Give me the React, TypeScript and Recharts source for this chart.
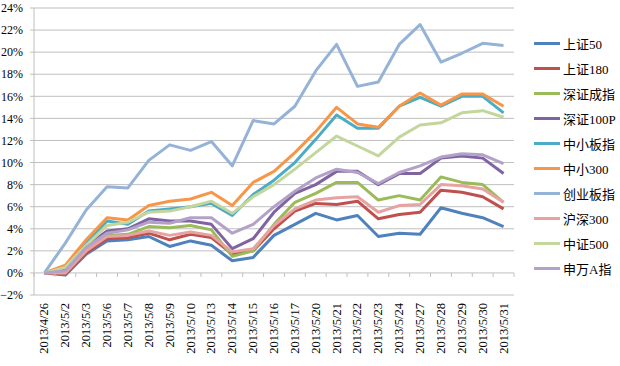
import { LineChart, Line, XAxis, YAxis, CartesianGrid } from 'recharts';

// trading days, 2013/4/26 - 2013/5/31
const dates = [
  '2013/4/26', '2013/5/2', '2013/5/3', '2013/5/6', '2013/5/7', '2013/5/8',
  '2013/5/9', '2013/5/10', '2013/5/13', '2013/5/14', '2013/5/15', '2013/5/16',
  '2013/5/17', '2013/5/20', '2013/5/21', '2013/5/22', '2013/5/23', '2013/5/24',
  '2013/5/27', '2013/5/28', '2013/5/29', '2013/5/30', '2013/5/31',
];

// cumulative return, %
const sz50 = [0, -0.2, 1.7, 2.9, 3.0, 3.3, 2.4, 2.9, 2.5, 1.1, 1.4, 3.4, 4.4, 5.4, 4.8, 5.2, 3.3, 3.6, 3.5, 5.9, 5.4, 5.0, 4.2];
const sz180 = [0, -0.1, 1.8, 3.1, 3.2, 3.6, 3.0, 3.5, 3.2, 1.7, 2.0, 4.0, 5.6, 6.3, 6.2, 6.5, 4.9, 5.3, 5.5, 7.5, 7.3, 6.9, 5.8];
const szcz = [0, 0.3, 2.2, 3.4, 3.5, 4.2, 4.1, 4.3, 3.9, 1.5, 2.0, 4.4, 6.4, 7.2, 8.2, 8.2, 6.6, 7.0, 6.6, 8.7, 8.2, 8.0, 6.4];
const sz100p = [0, 0.3, 2.4, 3.8, 4.0, 4.9, 4.7, 4.7, 4.4, 2.2, 3.1, 5.5, 7.2, 8.0, 9.2, 9.2, 8.0, 9.0, 9.0, 10.4, 10.6, 10.4, 9.0];
const zxb = [0, 0.5, 2.7, 4.7, 4.4, 5.6, 5.8, 6.0, 6.3, 5.2, 7.1, 8.4, 10.0, 12.1, 14.3, 13.1, 13.1, 15.1, 15.9, 15.1, 16.0, 16.0, 14.5];
const zx300 = [0, 0.7, 3.0, 5.0, 4.8, 6.1, 6.5, 6.7, 7.3, 6.1, 8.2, 9.2, 10.9, 12.8, 15.0, 13.5, 13.2, 15.1, 16.3, 15.2, 16.2, 16.2, 15.1];
const cyb = [0, 2.7, 5.7, 7.8, 7.7, 10.2, 11.6, 11.1, 11.9, 9.7, 13.8, 13.5, 15.1, 18.3, 20.7, 16.9, 17.3, 20.7, 22.5, 19.1, 19.9, 20.8, 20.6];
const hs300 = [0, 0.0, 2.0, 3.3, 3.4, 3.8, 3.4, 3.7, 3.4, 1.9, 2.2, 4.3, 5.8, 6.6, 6.8, 6.9, 5.5, 6.1, 6.2, 8.0, 7.9, 7.6, 6.4];
const zz500 = [0, 0.5, 2.5, 4.3, 4.6, 5.5, 5.6, 6.0, 6.5, 5.4, 6.9, 8.0, 9.4, 10.9, 12.4, 11.5, 10.6, 12.3, 13.4, 13.6, 14.5, 14.7, 14.1];
const swa = [0, 0.2, 2.3, 3.6, 3.9, 4.6, 4.5, 5.0, 5.0, 3.6, 4.4, 6.0, 7.4, 8.6, 9.4, 9.1, 8.1, 9.1, 9.7, 10.5, 10.8, 10.7, 9.9];

const yTicks = [-2, 0, 2, 4, 6, 8, 10, 12, 14, 16, 18, 20, 22, 24];

const series = [
  { key: 's1', name: '上证50', color: '#4F81BD', values: sz50 },
  { key: 's2', name: '上证180', color: '#C0504D', values: sz180 },
  { key: 's3', name: '深证成指', color: '#9BBB59', values: szcz },
  { key: 's4', name: '深证100P', color: '#8064A2', values: sz100p },
  { key: 's5', name: '中小板指', color: '#4BACC6', values: zxb },
  { key: 's6', name: '中小300', color: '#F79646', values: zx300 },
  { key: 's7', name: '创业板指', color: '#95B3D7', values: cyb },
  { key: 's8', name: '沪深300', color: '#E6A3A2', values: hs300 },
  { key: 's9', name: '中证500', color: '#C3D69B', values: zz500 },
  { key: 's10', name: '申万A指', color: '#B3A2C7', values: swa },
];

const data = dates.map((d, i) => {
  const row: Record<string, string | number> = { date: d };
  series.forEach((s) => {
    row[s.key] = s.values[i];
  });
  return row;
});

const W = 620;
const H = 366;
const TOP = 8;
const X_AXIS_H = 71;
const PLOT_W = 480;
const PLOT_H = H - TOP - X_AXIS_H;
const HALF_BAND = PLOT_W / dates.length / 2;
// distance from plot bottom (-2%) up to the 0% line
const ZERO_UP = (PLOT_H * 2) / 26;

const GRID = '#BFBFBF';
const FONT = '"Liberation Serif", "Times New Roman", "Noto Sans CJK SC", serif';

const fmtPct = (v: number) => (v < 0 ? `\u2212${Math.abs(v)}%` : `${v}%`);

function DateTick(props: any) {
  const { x, y, payload } = props;
  const ly = y + 8;
  return (
    <g>
      <line x1={x - HALF_BAND} x2={x - HALF_BAND} y1={y - ZERO_UP} y2={y - ZERO_UP + 4} stroke={GRID} />
      {payload.index === dates.length - 1 && (
        <line x1={x + HALF_BAND} x2={x + HALF_BAND} y1={y - ZERO_UP} y2={y - ZERO_UP + 4} stroke={GRID} />
      )}
      <text
        x={x}
        y={ly}
        transform={`rotate(-90 ${x} ${ly})`}
        textAnchor="end"
        dominantBaseline="central"
        fontSize={12.5}
        fontFamily={FONT}
        fill="#000"
      >
        {payload.value}
      </text>
    </g>
  );
}

export default function App() {
  return (
    <div style={{ position: 'relative', width: W, height: H, background: '#fff' }}>
      <style>{'body{margin:0}'}</style>
      <LineChart
        width={W}
        height={H}
        data={data}
        margin={{ top: TOP, right: W - 34 - PLOT_W, left: 0, bottom: 0 }}
      >
        <CartesianGrid stroke={GRID} vertical={false} />
        <XAxis
          dataKey="date"
          interval={0}
          height={X_AXIS_H}
          padding={{ left: HALF_BAND, right: HALF_BAND }}
          axisLine={false}
          tickLine={false}
          tickSize={0}
          tickMargin={0}
          tick={<DateTick />}
        />
        <YAxis
          width={34}
          domain={[-2, 24]}
          ticks={yTicks}
          interval={0}
          tickFormatter={fmtPct}
          axisLine={{ stroke: GRID }}
          tickLine={{ stroke: GRID }}
          tickSize={4}
          tickMargin={7}
          tick={{ fill: '#000', fontSize: 12, fontFamily: FONT }}
        />
        {series.map((s) => (
          <Line
            key={s.key}
            type="linear"
            dataKey={s.key}
            name={s.name}
            stroke={s.color}
            strokeWidth={3}
            strokeLinejoin="round"
            dot={false}
            isAnimationActive={false}
          />
        ))}
      </LineChart>
      <div style={{ position: 'absolute', left: 534, top: 31, fontFamily: FONT, fontSize: 13, color: '#000' }}>
        {series.map((s) => (
          <div key={s.key} style={{ display: 'flex', alignItems: 'center', height: 25 }}>
            <span style={{ display: 'inline-block', width: 26, height: 3, background: s.color, marginRight: 3 }} />
            <span>{s.name}</span>
          </div>
        ))}
      </div>
    </div>
  );
}
